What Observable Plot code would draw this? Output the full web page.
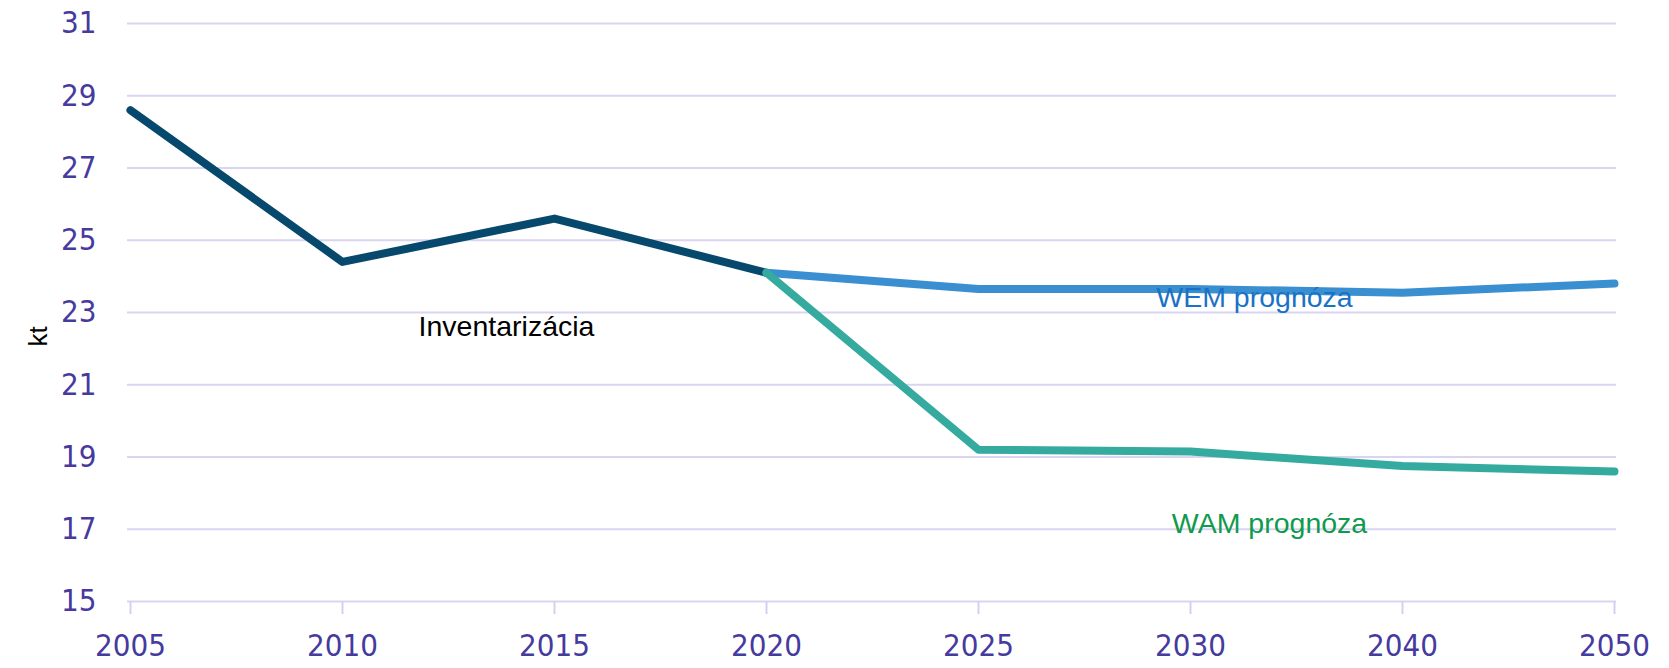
<!DOCTYPE html>
<html>
<head>
<meta charset="utf-8">
<script src="https://cdn.jsdelivr.net/npm/d3@7"></script>
<script src="https://cdn.jsdelivr.net/npm/@observablehq/plot@0.6"></script>
<style>
  html, body { margin: 0; padding: 0; background: #fff; }
  #chart svg { display: block; }
</style>
</head>
<body>
<div id="chart"></div>
<script>
const years = ["2005", "2010", "2015", "2020", "2025", "2030", "2040", "2050"];
const inventory = [28.6, 24.4, 25.6, 24.1, null, null, null, null];
const wem = [null, null, null, 24.1, 23.65, 23.65, 23.55, 23.8];
const wam = [null, null, null, 24.1, 19.2, 19.15, 18.75, 18.6];
const yTicks = [15, 17, 19, 21, 23, 25, 27, 29, 31];
const seriesNames = ["Inventarizácia", "WEM prognóza", "WAM prognóza"];
const seriesColors = ["#06496c", "#3a8fd0", "#35aa9f"];
const labelColors = ["#000000", "#1a72c6", "#109a4e"];

const toRows = (vals) => years.map((y, i) => ({year: y, value: vals[i]})).filter(d => d.value != null);
const invRows = toRows(inventory);
const wemRows = toRows(wem);
const wamRows = toRows(wam);

const tickFont = '"Liberation Sans Narrow", "DejaVu Sans Condensed", sans-serif';
const labelFont = '"Liberation Sans", Arial, sans-serif';

const chart = Plot.plot({
  width: 1669,
  height: 668,
  marginLeft: 127,
  marginRight: 53,
  marginTop: 23,
  marginBottom: 67,
  style: {background: "#fff", overflow: "visible"},
  x: {type: "point", domain: years, padding: 0},
  y: {domain: [15, 31]},
  marks: [
    Plot.ruleY(yTicks, {stroke: "#d9d5f1", strokeWidth: 2}),
    Plot.axisY(yTicks, {
      tickSize: 0, tickPadding: 31, fontSize: 31, fill: "#463a9e",
      fontFamily: tickFont, label: null
    }),
    Plot.axisX({
      tickSize: 13, stroke: "#d4d0ee", strokeWidth: 2, tickPadding: 19,
      fontSize: 31, fill: "#463a9e", fontFamily: tickFont, label: null
    }),
    Plot.text(["kt"], {
      frameAnchor: "left", dx: -89, dy: 34, rotate: -90,
      fontSize: 26, fill: "#000", fontFamily: labelFont
    }),
    Plot.line(invRows, {x: "year", y: "value", stroke: seriesColors[0], strokeWidth: 8, strokeLinejoin: "round"}),
    Plot.line(wemRows, {x: "year", y: "value", stroke: seriesColors[1], strokeWidth: 8, strokeLinejoin: "round"}),
    Plot.line(wamRows, {x: "year", y: "value", stroke: seriesColors[2], strokeWidth: 8, strokeLinejoin: "round"}),
    Plot.text([{year: "2015", value: 22.6}], {
      x: "year", y: "value", text: () => seriesNames[0], dx: -48,
      fontSize: 28.5, fill: labelColors[0], fontFamily: labelFont
    }),
    Plot.text([{year: "2030", value: 23.4}], {
      x: "year", y: "value", text: () => seriesNames[1], dx: 64,
      fontSize: 28.5, fill: labelColors[1], fontFamily: labelFont
    }),
    Plot.text([{year: "2030", value: 17.15}], {
      x: "year", y: "value", text: () => seriesNames[2], dx: 79,
      fontSize: 28.5, fill: labelColors[2], fontFamily: labelFont
    })
  ]
});
document.getElementById("chart").appendChild(chart);
</script>
</body>
</html>
